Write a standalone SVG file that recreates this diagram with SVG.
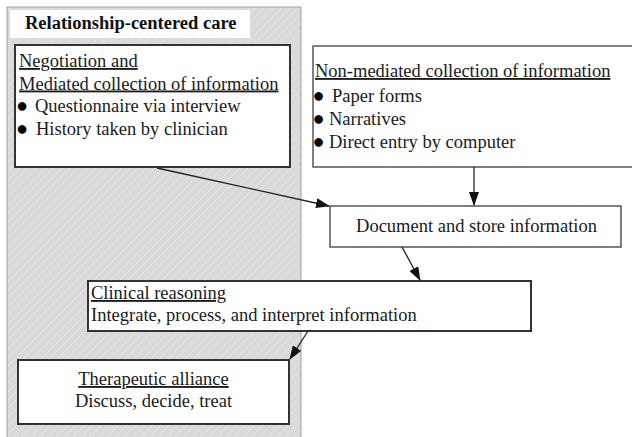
<svg xmlns="http://www.w3.org/2000/svg" width="632" height="437" viewBox="0 0 632 437">
<style>
text{font-family:"Liberation Serif","Times New Roman",serif;font-size:18.5px;fill:#1a1a1a}
.title{font-weight:bold;fill:#111}
.u{text-decoration:underline}
.b{font-size:20px;fill:#000}
.box{fill:#fff;stroke:#333;stroke-width:2}
.box2{fill:#fff;stroke:#555;stroke-width:1.5}
.conn{stroke:#222;stroke-width:1.3;fill:none;marker-end:url(#ah)}
</style>
<defs>
<pattern id="hatch" width="6" height="6" patternUnits="userSpaceOnUse" patternTransform="rotate(45)">
<rect width="6" height="6" fill="#d9d9d9"/>
<line x1="0" y1="0" x2="0" y2="6" stroke="#e3e3e3" stroke-width="2"/>
</pattern>
<marker id="ah" markerWidth="14" markerHeight="10" refX="13" refY="5" orient="auto" markerUnits="userSpaceOnUse">
<path d="M0,0 L14,5 L0,10 Z" fill="#111"/>
</marker>
</defs>
<g id="panel">
<rect x="7" y="7" width="294" height="440" fill="url(#hatch)" stroke="#a0a0a0" stroke-width="1"/>
<rect x="10" y="10" width="240" height="28" fill="#fff"/>
<text class="title" x="25" y="28.5">Relationship-centered care</text>
</g>
<g id="mediated">
<rect class="box" x="15" y="45" width="275" height="122"/>
<text class="u" x="19" y="67">Negotiation and</text>
<text class="u" x="19" y="89.5">Mediated collection of information</text>
<text x="16" y="112"><tspan class="b">●</tspan><tspan x="35">Questionnaire via interview</tspan></text>
<text x="16" y="134.5"><tspan class="b">●</tspan><tspan x="36">History taken by clinician</tspan></text>
</g>
<g id="nonmediated">
<rect class="box2" x="313" y="46" width="330" height="121"/>
<text class="u" x="315" y="77">Non-mediated collection of information</text>
<text x="312.5" y="101.5"><tspan class="b">●</tspan><tspan x="332">Paper forms</tspan></text>
<text x="312.5" y="125"><tspan class="b">●</tspan><tspan x="329">Narratives</tspan></text>
<text x="312.5" y="147.5"><tspan class="b">●</tspan><tspan x="329">Direct entry by computer</tspan></text>
</g>
<g id="document">
<rect class="box2" x="330" y="206" width="291" height="41"/>
<text x="476.5" y="232" text-anchor="middle">Document and store information</text>
</g>
<g id="clinical">
<rect class="box" x="88" y="281" width="443" height="50"/>
<text class="u" x="91" y="299">Clinical reasoning</text>
<text x="91" y="321">Integrate, process, and interpret information</text>
</g>
<g id="therapeutic">
<rect class="box" x="18" y="360" width="271" height="64"/>
<text class="u" x="153.5" y="385" text-anchor="middle">Therapeutic alliance</text>
<text x="153.5" y="407" text-anchor="middle">Discuss, decide, treat</text>
</g>
<g id="connectors">
<line class="conn" x1="157" y1="168" x2="329" y2="206"/>
<line class="conn" x1="474" y1="167" x2="474" y2="205"/>
<line class="conn" x1="402" y1="247" x2="420" y2="280"/>
<line class="conn" x1="308" y1="331" x2="290" y2="359"/>
</g>
</svg>
